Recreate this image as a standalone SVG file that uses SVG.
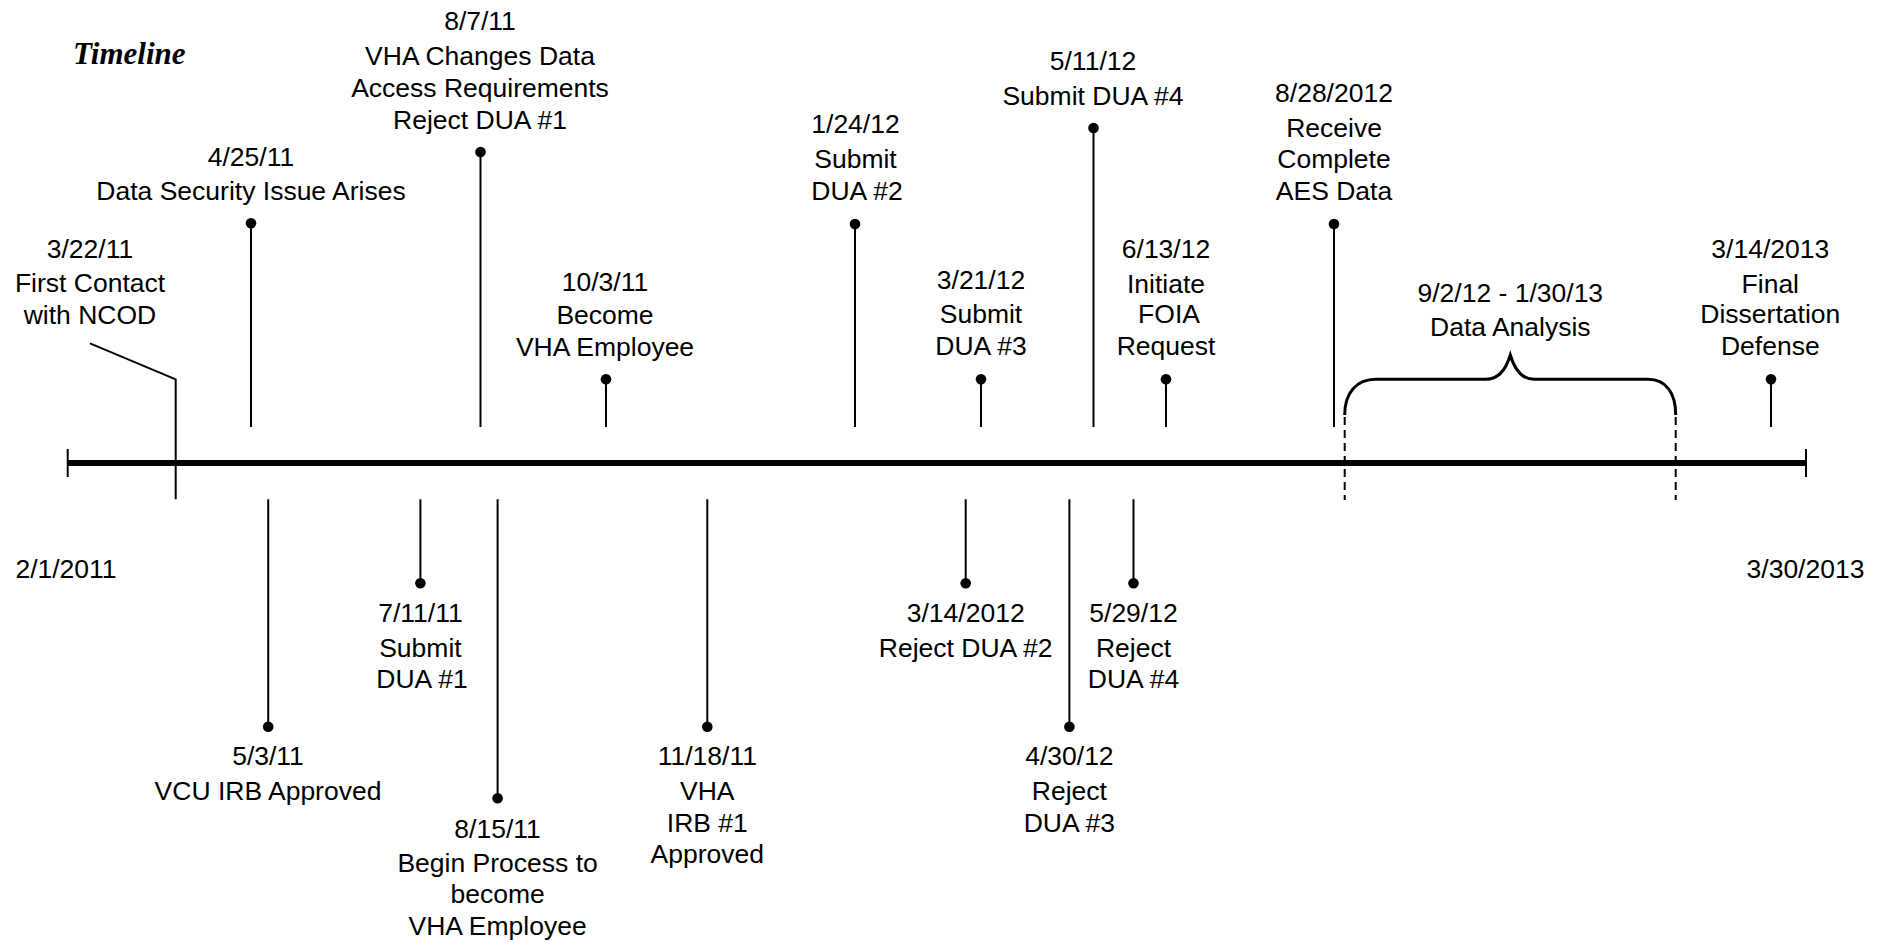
<svg xmlns="http://www.w3.org/2000/svg" width="1886" height="942" viewBox="0 0 1886 942">
<style>
  text { font-family: "Liberation Sans", Arial, sans-serif; font-size: 26.5px; fill: #000; text-anchor: middle; }
  .title { font-family: "Liberation Serif", "Times New Roman", serif; font-weight: bold; font-style: italic; font-size: 31px; text-anchor: start; }
  .stem { stroke: #000; stroke-width: 2; fill: none; }
  .axis { stroke: #000; stroke-width: 6; fill: none; }
  .tick { stroke: #000; stroke-width: 2; fill: none; }
  .brace { stroke: #000; stroke-width: 3; fill: none; }
  .dash { stroke: #000; stroke-width: 2; fill: none; stroke-dasharray: 8 5; }
  .dot { fill: #000; }
</style>
<rect width="1886" height="942" fill="#fff"/>

<g id="title"><text class="title" x="73" y="64">Timeline</text></g>

<g id="axis">
  <line class="axis" x1="67.7" y1="463" x2="1806" y2="463"/>
  <line class="tick" x1="67.7" y1="449" x2="67.7" y2="477"/>
  <line class="tick" x1="1806" y1="449" x2="1806" y2="477"/>
</g>

<g id="connectors">
  <polyline class="stem" points="90,343.3 175.7,379.3 175.7,499.3"/>
  <line class="stem" x1="251" y1="223" x2="251" y2="427"/>
  <line class="stem" x1="480.5" y1="152" x2="480.5" y2="427"/>
  <line class="stem" x1="606" y1="379" x2="606" y2="427"/>
  <line class="stem" x1="855" y1="224" x2="855" y2="427"/>
  <line class="stem" x1="981" y1="379" x2="981" y2="427"/>
  <line class="stem" x1="1093.5" y1="128" x2="1093.5" y2="427"/>
  <line class="stem" x1="1166" y1="379" x2="1166" y2="427"/>
  <line class="stem" x1="1334" y1="224" x2="1334" y2="427"/>
  <line class="stem" x1="1771" y1="379" x2="1771" y2="427"/>
  <line class="stem" x1="268.2" y1="499.3" x2="268.2" y2="726.7"/>
  <line class="stem" x1="420.4" y1="499.3" x2="420.4" y2="583.3"/>
  <line class="stem" x1="497.6" y1="499.3" x2="497.6" y2="798.3"/>
  <line class="stem" x1="707.3" y1="499.3" x2="707.3" y2="726.7"/>
  <line class="stem" x1="965.7" y1="499.3" x2="965.7" y2="583.3"/>
  <line class="stem" x1="1069.4" y1="499.3" x2="1069.4" y2="726.7"/>
  <line class="stem" x1="1133.5" y1="499.3" x2="1133.5" y2="583.3"/>
  <line class="dash" x1="1344.7" y1="417" x2="1344.7" y2="500"/>
  <line class="dash" x1="1675.7" y1="417" x2="1675.7" y2="500"/>
</g>

<g id="ev-start"><text x="66" y="578.3">2/1/2011</text></g>
<g id="ev-end"><text x="1805.5" y="578.3">3/30/2013</text></g>

<g id="ev-3-22-11">
  <text x="90" y="258.3">3/22/11</text>
  <text x="90" y="292.3">First Contact</text>
  <text x="90" y="324">with NCOD</text>
</g>

<g id="ev-4-25-11">
  <circle class="dot" cx="251" cy="223.3" r="5.3"/>
  <text x="251" y="165.7">4/25/11</text>
  <text x="251" y="200">Data Security Issue Arises</text>
</g>

<g id="ev-8-7-11">
  <circle class="dot" cx="480.5" cy="152" r="5.3"/>
  <text x="480" y="30">8/7/11</text>
  <text x="480" y="65">VHA Changes Data</text>
  <text x="480" y="97">Access Requirements</text>
  <text x="480" y="129">Reject DUA #1</text>
</g>

<g id="ev-10-3-11">
  <circle class="dot" cx="606" cy="379.3" r="5.3"/>
  <text x="605" y="290.7">10/3/11</text>
  <text x="605" y="324">Become</text>
  <text x="605" y="356">VHA Employee</text>
</g>

<g id="ev-1-24-12">
  <circle class="dot" cx="855" cy="224" r="5.3"/>
  <text x="855.5" y="133.3">1/24/12</text>
  <text x="855.5" y="168.3">Submit</text>
  <text x="857" y="200">DUA #2</text>
</g>

<g id="ev-3-21-12">
  <circle class="dot" cx="981" cy="379.3" r="5.3"/>
  <text x="981" y="289.3">3/21/12</text>
  <text x="981" y="323.3">Submit</text>
  <text x="981" y="355">DUA #3</text>
</g>

<g id="ev-5-11-12">
  <circle class="dot" cx="1093.5" cy="128" r="5.3"/>
  <text x="1093" y="70.3">5/11/12</text>
  <text x="1093" y="105">Submit DUA #4</text>
</g>

<g id="ev-6-13-12">
  <circle class="dot" cx="1166" cy="379.3" r="5.3"/>
  <text x="1166" y="257.7">6/13/12</text>
  <text x="1166" y="292.7">Initiate</text>
  <text x="1169" y="323.3">FOIA</text>
  <text x="1166" y="355">Request</text>
</g>

<g id="ev-8-28-12">
  <circle class="dot" cx="1334" cy="224" r="5.3"/>
  <text x="1334" y="101.7">8/28/2012</text>
  <text x="1334" y="136.7">Receive</text>
  <text x="1334" y="168.3">Complete</text>
  <text x="1334" y="200">AES Data</text>
</g>

<g id="ev-data-analysis">
  <path class="brace" d="M1344.7,415 C1344.7,393 1356,379.3 1376,379.3 L1486,379.3 C1500,379.3 1507,366 1510.3,355 C1513.6,366 1520,379.3 1534,379.3 L1648,379.3 C1666,379.3 1675.7,393 1675.7,415"/>
  <text x="1510.3" y="301.7">9/2/12 - 1/30/13</text>
  <text x="1510.3" y="336">Data Analysis</text>
</g>

<g id="ev-3-14-13">
  <circle class="dot" cx="1771" cy="379.3" r="5.3"/>
  <text x="1770.3" y="257.7">3/14/2013</text>
  <text x="1770.3" y="292.7">Final</text>
  <text x="1770.3" y="323.3">Dissertation</text>
  <text x="1770.3" y="355">Defense</text>
</g>

<g id="ev-5-3-11">
  <circle class="dot" cx="268.2" cy="726.7" r="5.3"/>
  <text x="268" y="765">5/3/11</text>
  <text x="268" y="800">VCU IRB Approved</text>
</g>

<g id="ev-7-11-11">
  <circle class="dot" cx="420.4" cy="583.3" r="5.3"/>
  <text x="420.4" y="621.7">7/11/11</text>
  <text x="420.4" y="656.7">Submit</text>
  <text x="422" y="688.3">DUA #1</text>
</g>

<g id="ev-8-15-11">
  <circle class="dot" cx="497.6" cy="798.3" r="5.3"/>
  <text x="497.6" y="838.3">8/15/11</text>
  <text x="497.6" y="871.7">Begin Process to</text>
  <text x="497.6" y="903.3">become</text>
  <text x="497.6" y="935">VHA Employee</text>
</g>

<g id="ev-11-18-11">
  <circle class="dot" cx="707.3" cy="726.7" r="5.3"/>
  <text x="707.3" y="765">11/18/11</text>
  <text x="707.3" y="800">VHA</text>
  <text x="707.3" y="831.7">IRB #1</text>
  <text x="707.3" y="863.3">Approved</text>
</g>

<g id="ev-3-14-12">
  <circle class="dot" cx="965.7" cy="583.3" r="5.3"/>
  <text x="965.7" y="621.7">3/14/2012</text>
  <text x="965.7" y="656.7">Reject DUA #2</text>
</g>

<g id="ev-4-30-12">
  <circle class="dot" cx="1069.4" cy="726.7" r="5.3"/>
  <text x="1069.4" y="765">4/30/12</text>
  <text x="1069.4" y="800">Reject</text>
  <text x="1069.4" y="831.7">DUA #3</text>
</g>

<g id="ev-5-29-12">
  <circle class="dot" cx="1133.5" cy="583.3" r="5.3"/>
  <text x="1133.5" y="621.7">5/29/12</text>
  <text x="1133.5" y="656.7">Reject</text>
  <text x="1133.5" y="688.3">DUA #4</text>
</g>
</svg>
